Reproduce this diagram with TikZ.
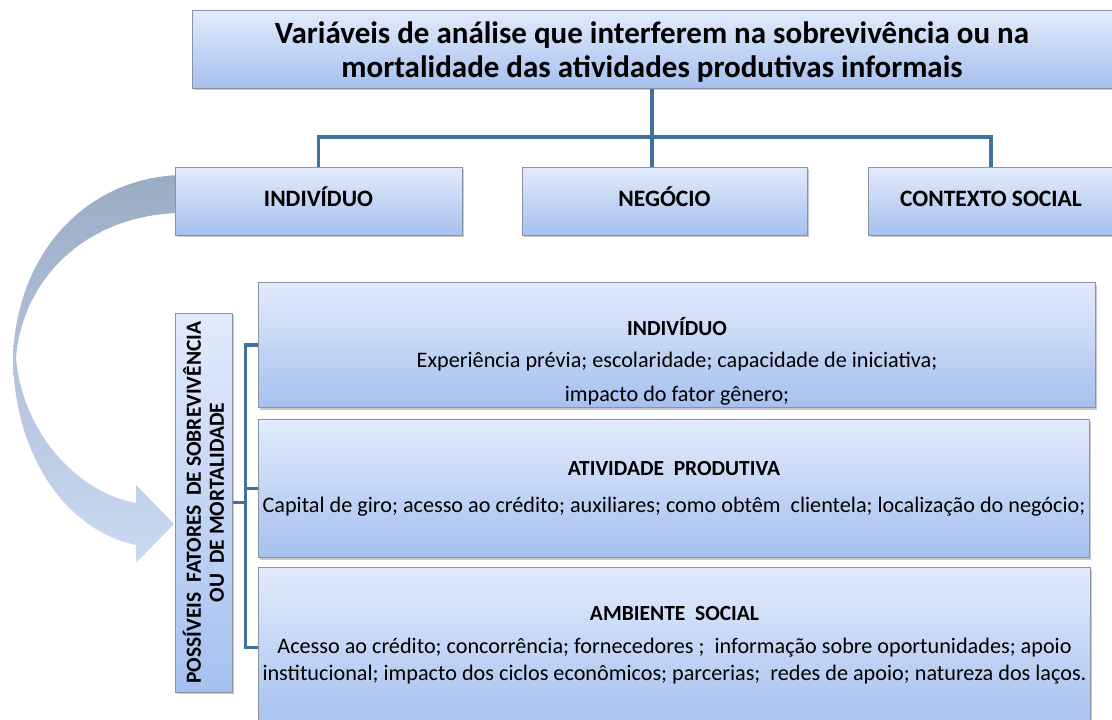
\documentclass[tikz,border=0pt]{standalone}
\usepackage{fontspec}
\setmainfont{Carlito}
\usetikzlibrary{positioning,shadows}
\definecolor{linkblue}{HTML}{41709C}
\definecolor{boxtop}{HTML}{E2EBFB}
\definecolor{boxbottom}{HTML}{A6C0EF}
\definecolor{boxline}{HTML}{8A93A3}
\definecolor{bandtop}{HTML}{9AABC4}
\definecolor{bandbottom}{HTML}{CADAF2}
\newcommand{\paneltitle}[1]{{\fontsize{21.5}{27}\selectfont\bfseries #1}}
\tikzset{tier box/.style={rectangle,draw=boxline,line width=1pt,top color=boxtop,bottom color=boxbottom,inner sep=0pt,
    drop shadow={shadow xshift=1.5pt,shadow yshift=-2pt,opacity=0.35,fill=black!60}},
  row box/.style={tier box,minimum height=68pt,text height=15pt,text depth=4pt,font=\fontsize{23.5}{26}\selectfont\bfseries},
  panel box/.style={tier box,anchor=north west},
  panel text/.style={align=center,font=\fontsize{22.2}{27}\selectfont},
  link/.style={draw=linkblue,line width=3.5pt},
}

\begin{document}
\begin{tikzpicture}[x=1pt,y=-1pt]
				\useasboundingbox (0,0) rectangle (1112,720);
				% curved band from the first tier down to the factors box
				\shade[top color=bandtop,bottom color=bandbottom]
				(180,175) .. controls (85,178) and (15,255) .. (13,360)
				.. controls (15,455) and (65,530) .. (136,545)
				-- (136,563) -- (174,524) -- (136,485) -- (136,503)
				.. controls (75,492) and (22,430) .. (16,358)
				.. controls (22,280) and (85,215) .. (180,213) -- cycle;
				
				\node[tier box,minimum width=920pt,minimum height=78pt] (head) at (652,49) {};
				\node[align=center,font=\fontsize{31}{34}\selectfont\bfseries] (headtext) at ([yshift=-3pt]head.center)
				      {Variáveis de análise que interferem na sobrevivência ou na\\mortalidade das atividades produtivas informais};
				\node[row box,minimum width=287pt] (ind) at (318.5,201) {INDIVÍDUO};
				\node[row box,minimum width=285pt] (neg) [right=59pt of ind] {NEGÓCIO};
				\node[row box,minimum width=246pt] (ctx) [right=60pt of neg] {CONTEXTO SOCIAL};
				
				\coordinate (hub) at (head.south |- 0,137);
				\draw[link] (head.south) -- (hub |- neg.north);
				\draw[link] (ind.north) |- (hub) -| (ctx.north);
				
				\node[tier box,rotate=90,minimum width=379pt,minimum height=57pt,align=center,
				      font=\fontsize{21.5}{23}\selectfont\bfseries] (factors) at (203.5,502.5)
				      {POSSÍVEIS~~FATORES~~DE SOBREVIVÊNCIA\\OU~~DE MORTALIDADE};
				
				\node[panel box,minimum width=837pt,minimum height=125pt] (pInd) at (258,282) {};
				\node[panel box,minimum width=831pt,minimum height=138pt] (pAtv) [below=11pt of pInd.south west,anchor=north west] {};
				\node[panel box,minimum width=832pt,minimum height=160pt] (pAmb) [below=9pt of pAtv.south west,anchor=north west] {};
				
				\node[panel text] (tInd) at ([yshift=-16pt]pInd.center)
				      {\paneltitle{INDIVÍDUO}\\[5pt]Experiência prévia; escolaridade; capacidade de iniciativa;\\[7pt]impacto do fator gênero;};
				\node[panel text] (tAtv) at (pAtv.center)
				      {\paneltitle{ATIVIDADE~~PRODUTIVA}\\[10pt]Capital de giro; acesso ao crédito; auxiliares; como obtêm~~clientela; localização do negócio;};
				\node[panel text] (tAmb) at ([yshift=2.5pt]pAmb.center)
				      {\paneltitle{AMBIENTE~~SOCIAL}\\[6pt]Acesso ao crédito; concorrência; fornecedores ;~~informação sobre oportunidades; apoio\\
				       institucional; impacto dos ciclos econômicos; parcerias;~~redes de apoio; natureza dos laços.};
				
				\coordinate (spine) at ([xshift=13pt]factors.south);
				\draw[link] (factors.south) -- (spine);
				\draw[link] (pInd.west) -| (spine) |- (pAmb.west);
				\draw[link] (spine |- pAtv.west) -- (pAtv.west);
				
			\end{tikzpicture}
\end{document}
